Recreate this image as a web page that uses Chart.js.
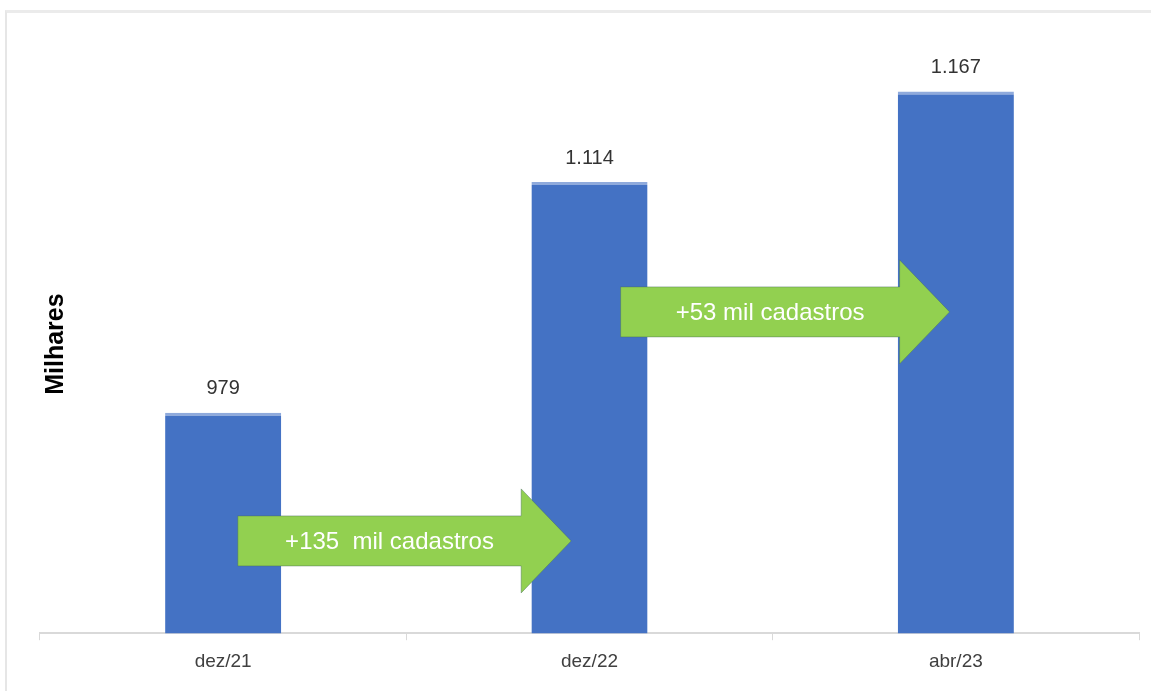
<!DOCTYPE html>
<html lang="pt">
<head>
  <meta charset="UTF-8">
  <title>Cadastros (milhares)</title>
  <script src="https://cdn.jsdelivr.net/npm/chart.js"></script>
  <style>
    html, body { margin: 0; padding: 0; background: #fff; overflow: hidden; }
    #wrap { position: relative; width: 1151px; height: 691px; }
    #frame { position: absolute; left: 5px; top: 10px; width: 1200px; height: 800px;
             border-left: 2px solid #e6e6e6; border-top: 3px solid #ebebeb; }
    canvas { position: absolute; left: 0; top: 0; }
  </style>
</head>
<body>
<div id="wrap">
  <div id="frame"></div>
  <canvas id="chart" width="1151" height="691"></canvas>
</div>
<script>
  // valores (milhares)
  var labels = ['dez/21', 'dez/22', 'abr/23'];
  var cadastros = [979, 1114, 1167];
  var yTitle = 'Milhares';

  // setas: de/até em posição de categoria, altura em valor do eixo
  var arrowText = ['+135  mil cadastros', '+53 mil cadastros'];
  var arrowFrom = [0.04, 1.085];
  var arrowTo = [0.95, 1.983];
  var arrowLevel = [904, 1038];

  function fmt(n) {
    var s = String(Math.round(n));
    return s.replace(/\B(?=(\d{3})+(?!\d))/g, '.');
  }

  var extras = {
    id: 'extras',
    afterDatasetsDraw: function(chart) {
      var c = chart.ctx, x = chart.scales.x, y = chart.scales.y, area = chart.chartArea;
      c.save();

      // rótulos de valor
      c.fillStyle = '#333333';
      c.font = '20px "Liberation Sans", Arial, sans-serif';
      c.textAlign = 'center';
      c.textBaseline = 'middle';
      chart.getDatasetMeta(0).data.forEach(function(bar, i) {
        c.fillText(fmt(cadastros[i]), bar.x, bar.y - 24);
      });

      // setas verdes
      for (var i = 0; i < arrowText.length; i++) {
        var x0 = x.getPixelForValue(arrowFrom[i]);
        var x2 = x.getPixelForValue(arrowTo[i]);
        var x1 = x2 - 50;
        var ym = y.getPixelForValue(arrowLevel[i]);
        c.beginPath();
        c.moveTo(x0, ym - 25);
        c.lineTo(x1, ym - 25);
        c.lineTo(x1, ym - 52);
        c.lineTo(x2, ym);
        c.lineTo(x1, ym + 52);
        c.lineTo(x1, ym + 25);
        c.lineTo(x0, ym + 25);
        c.closePath();
        c.fillStyle = '#92D050';
        c.fill();
        c.strokeStyle = 'rgba(70,110,90,0.45)';
        c.lineWidth = 1;
        c.stroke();
        c.fillStyle = '#ffffff';
        c.font = '24px "Liberation Sans", Arial, sans-serif';
        c.fillText(arrowText[i], (x0 + x1) / 2 + 10, ym + 1);
      }

      // título do eixo Y
      c.translate(area.left + 16, (area.top + area.bottom) / 2 + 10);
      c.rotate(-Math.PI / 2);
      c.fillStyle = '#000000';
      c.font = 'bold 25px "Liberation Sans", Arial, sans-serif';
      c.fillText(yTitle, 0, 0);
      c.restore();
    }
  };

  var ctx = document.getElementById('chart').getContext('2d');
  var chart = new Chart(ctx, {
    type: 'bar',
    data: {
      labels: labels,
      datasets: [{
        data: cadastros,
        backgroundColor: '#4472C4',
        borderColor: '#8faadc',
        borderWidth: { top: 3, left: 0, right: 0, bottom: 0 },
        borderSkipped: false,
        categoryPercentage: 1,
        barPercentage: 0.317
      }]
    },
    options: {
      responsive: false,
      animation: false,
      layout: { padding: { left: 40, right: 12, top: 35, bottom: 8 } },
      plugins: { legend: { display: false }, tooltip: { enabled: false } },
      scales: {
        x: {
          grid: { display: true, drawOnChartArea: false, drawTicks: true, tickLength: 7,
                  color: '#d9d9d9', offset: true },
          border: { color: '#d9d9d9', width: 2 },
          ticks: { color: '#404040', padding: 10,
                   font: { size: 19, family: '"Liberation Sans", Arial, sans-serif' } }
        },
        y: {
          display: false,
          min: 850,
          max: 1200
        }
      }
    },
    plugins: [extras]
  });
</script>
</body>
</html>
